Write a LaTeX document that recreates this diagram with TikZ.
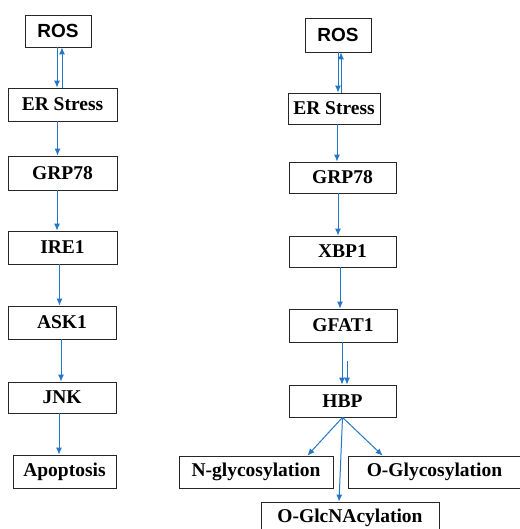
\documentclass[tikz,border=0pt]{standalone}
\usepackage{fontspec}
\setmainfont{Liberation Serif}
\newfontfamily\arialfam{Liberation Sans}
\usetikzlibrary{arrows.meta}
\definecolor{linkblue}{RGB}{36,118,198}
\tikzset{
  stepbox/.style={draw=black!85, line width=0.8pt, inner sep=0pt,
    font=\fontsize{19.5}{22}\selectfont\bfseries},
  sansbox/.style={stepbox, font=\fontsize{19}{22}\selectfont\arialfam\bfseries},
  link/.style={draw=linkblue, line width=1pt, -{Latex[length=7pt,width=6pt]}},
}
\begin{document}
\begin{tikzpicture}[x=1pt,y=-1pt]
  \useasboundingbox (0,0) rectangle (519,529);
  % apoptosis branch
  \node[sansbox, minimum width=66, minimum height=32] (rosA) at (58,31) {ROS};
  \node[stepbox, minimum width=109, minimum height=33] (erA) at (62.5,104.5) {ER Stress};
  \node[stepbox, minimum width=109, minimum height=34] (grpA) at (62.5,173) {GRP78};
  \node[stepbox, minimum width=109, minimum height=33] (ireA) at (62.5,247.5) {IRE1};
  \node[stepbox, minimum width=108, minimum height=33] (askA) at (62,322.5) {ASK1};
  \node[stepbox, minimum width=108, minimum height=31] (jnkA) at (62,397.5) {JNK};
  \node[stepbox, minimum width=103, minimum height=33] (apoA) at (64.5,471.5) {Apoptosis};
  % hexosamine branch
  \node[sansbox, minimum width=66, minimum height=34] (rosB) at (338,35) {ROS};
  \node[stepbox, minimum width=92, minimum height=31] (erB) at (334,108.5) {ER Stress};
  \node[stepbox, minimum width=107, minimum height=31] (grpB) at (342.5,177.5) {GRP78};
  \node[stepbox, minimum width=107, minimum height=31] (xbpB) at (342.5,251.5) {XBP1};
  \node[stepbox, minimum width=108, minimum height=33] (gfatB) at (343,325.5) {GFAT1};
  \node[stepbox, minimum width=107, minimum height=32] (hbpB) at (342.5,401) {HBP};
  \node[stepbox, minimum width=154, minimum height=32] (nglyB) at (256,472) {N-glycosylation};
  \node[stepbox, minimum width=173, minimum height=32] (oglyB) at (434.5,472) {O-Glycosylation};
  \node[stepbox, minimum width=178, minimum height=32] (oglcB) at (350,518) {O-GlcNAcylation};

  % left arrows
  \draw[link] ([xshift=-1]rosA.south) -- ([xshift=-1]rosA.south |- erA.north);
  \draw[link] ([xshift=4]rosA.south |- erA.north) -- ([xshift=4]rosA.south);
  \draw[link] ([xshift=-5]erA.south) -- ([xshift=-5]erA.south |- grpA.north);
  \draw[link] ([xshift=-5.5]grpA.south) -- ([xshift=-5.5]grpA.south |- ireA.north);
  \draw[link] ([xshift=-3]ireA.south) -- ([xshift=-3]ireA.south |- askA.north);
  \draw[link] ([xshift=-1]askA.south) -- ([xshift=-1]askA.south |- jnkA.north);
  \draw[link] ([xshift=-3]jnkA.south) -- ([xshift=-3]jnkA.south |- apoA.north);

  % right arrows
  \draw[link] (rosB.south) -- (rosB.south |- erB.north);
  \draw[link] ([xshift=3]rosB.south |- erB.north) -- ([xshift=3]rosB.south);
  \draw[link] ([xshift=3]erB.south) -- ([xshift=3]erB.south |- grpB.north);
  \draw[link] ([xshift=-4.5]grpB.south) -- ([xshift=-4.5]grpB.south |- xbpB.north);
  \draw[link] ([xshift=-2.5]xbpB.south) -- ([xshift=-2.5]xbpB.south |- gfatB.north);
  \draw[link] ([xshift=-1]gfatB.south) -- ([xshift=-1]gfatB.south |- hbpB.north);
  \coordinate (dupB) at (347,361);
  \draw[link] (dupB) -- (dupB |- hbpB.north);
  \draw[link] (hbpB.south) -- ([xshift=-26]nglyB.north east);
  \draw[link] (hbpB.south) -- ([xshift=35]oglyB.north west);
  \draw[link] (hbpB.south) -- ([xshift=-11]oglcB.north);
\end{tikzpicture}
\end{document}
